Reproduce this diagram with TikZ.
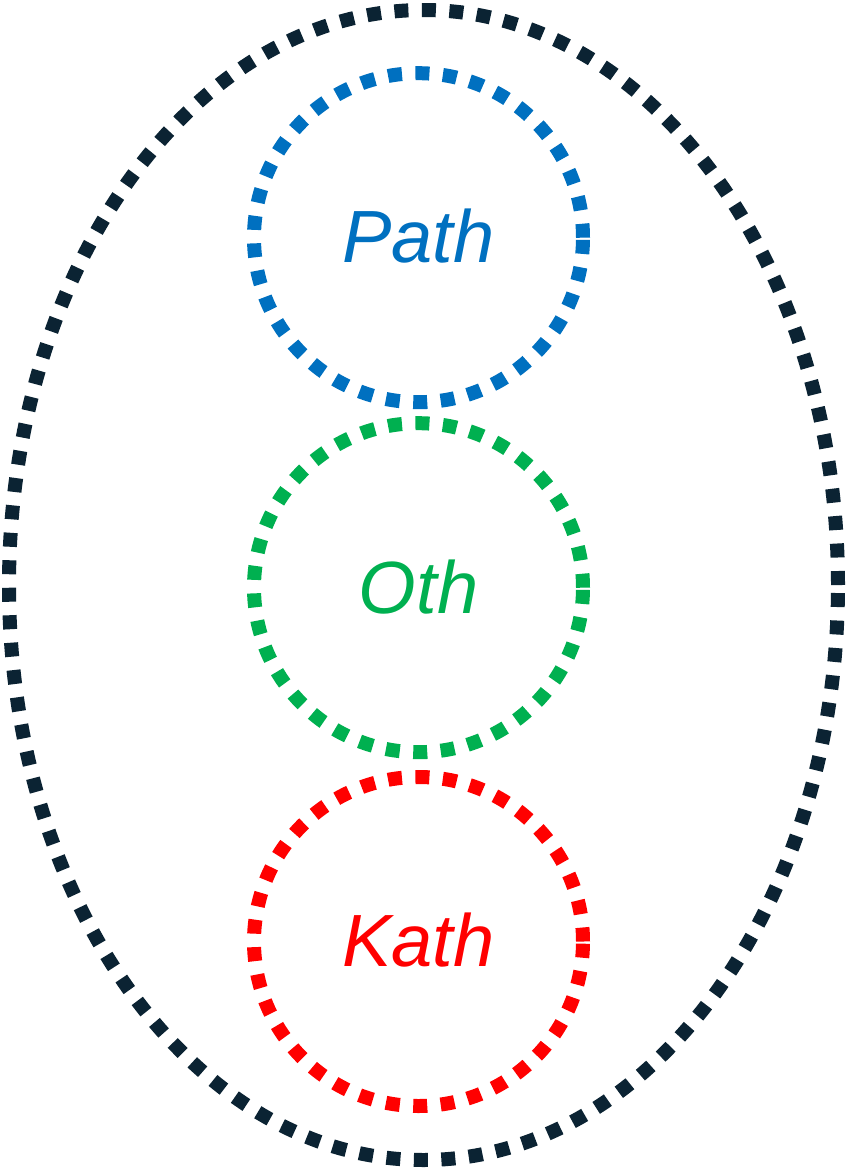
\documentclass[tikz,border=0pt]{standalone}
\usepackage{fontspec}
\setmainfont{Liberation Sans}
\usetikzlibrary{shapes.geometric}
\definecolor{outerc}{HTML}{0B2333}
\definecolor{pathc}{HTML}{0070C0}
\definecolor{othc}{HTML}{00B050}
\definecolor{kathc}{HTML}{FF0000}
\tikzset{
  dots/.style={line width=14pt, dash pattern=on 14pt off 13.5pt},
  ring/.style={circle, draw, dots, minimum size=329pt, inner sep=0pt},
  lbl/.style={anchor=base, inner sep=0pt, font=\fontsize{74}{80}\selectfont\itshape}
}
\begin{document}
\begin{tikzpicture}[x=1pt,y=-1pt]
\useasboundingbox (0,0) rectangle (847,1168);
\node[ellipse, draw=outerc, dots, minimum width=829pt, minimum height=1150pt, inner sep=0pt] (outer) at (423.5,585) {};
\node[ring, draw=pathc] (pathring) at (418.5,237.7) {};
\node[ring, draw=othc] (othring) at (418.5,587.7) {};
\node[ring, draw=kathc] (kathring) at (418.5,941.5) {};
\node[lbl, text=pathc] (pathlbl) at (418.5,262) {Path};
\node[lbl, text=othc] (othlbl) at (418.5,613) {Oth};
\node[lbl, text=kathc] (kathlbl) at (418.5,966) {Kath};
\end{tikzpicture}
\end{document}
